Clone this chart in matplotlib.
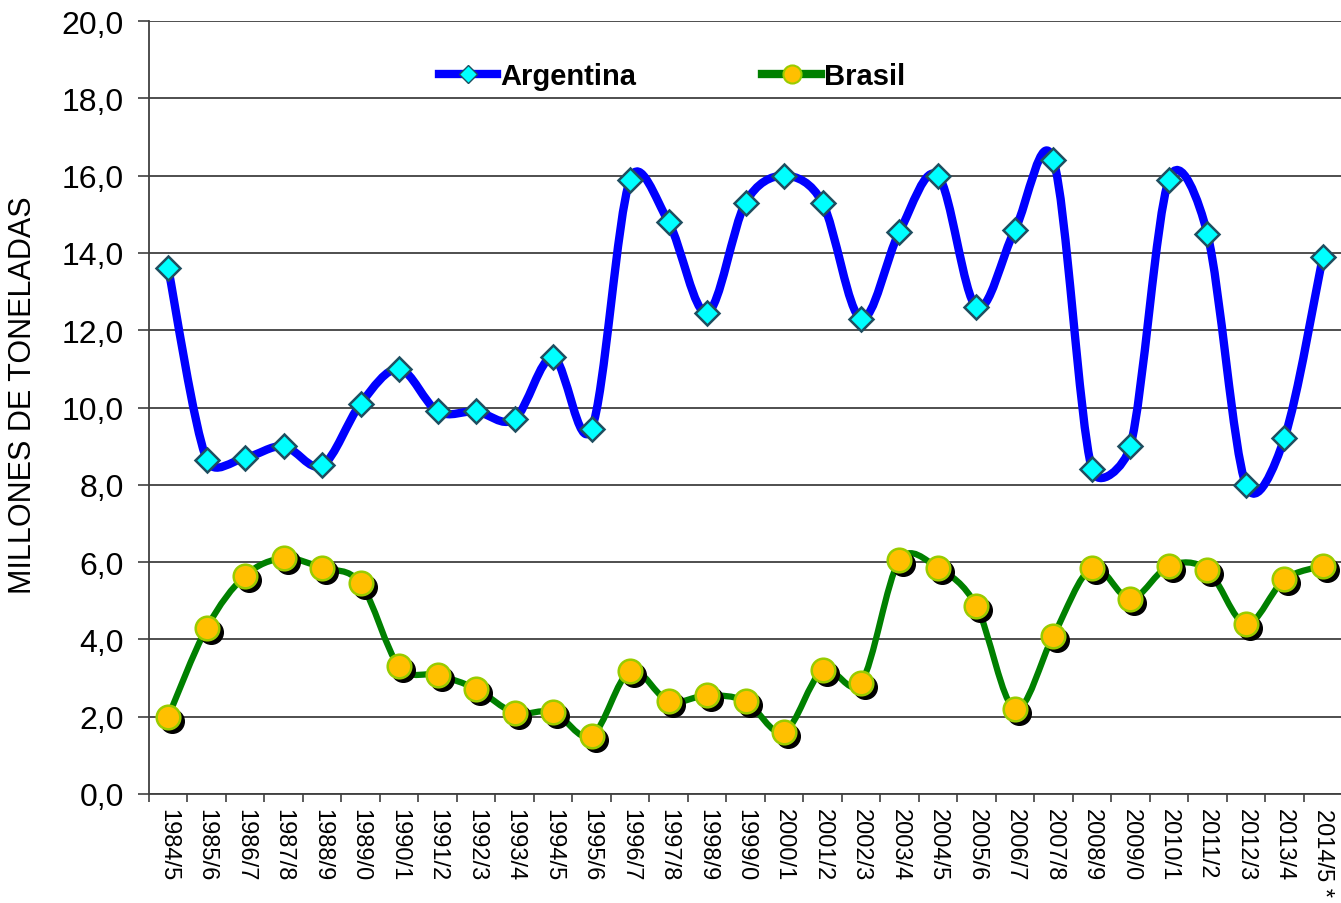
import matplotlib
matplotlib.use("Agg")
import matplotlib.pyplot as plt
import matplotlib.transforms as mtransforms
import numpy as np
from matplotlib.lines import Line2D
from matplotlib.path import Path
from matplotlib.patches import PathPatch

plt.rcParams["font.family"] = ["Liberation Sans", "DejaVu Sans"]

campaigns = ["1984/5", "1985/6", "1986/7", "1987/8", "1988/9", "1989/0", "1990/1",
             "1991/2", "1992/3", "1993/4", "1994/5", "1995/6", "1996/7", "1997/8",
             "1998/9", "1999/0", "2000/1", "2001/2", "2002/3", "2003/4", "2004/5",
             "2005/6", "2006/7", "2007/8", "2008/9", "2009/0", "2010/1", "2011/2",
             "2012/3", "2013/4", "2014/5 *"]
argentina = [13.6, 8.65, 8.7, 9.0, 8.5, 10.1, 11.0, 9.9, 9.9, 9.7, 11.3, 9.45,
             15.9, 14.8, 12.45, 15.3, 16.0, 15.3, 12.3, 14.55, 16.0, 12.6, 14.6,
             16.4, 8.4, 9.0, 15.9, 14.5, 8.0, 9.2, 13.9]
brasil = [2.0, 4.3, 5.65, 6.1, 5.85, 5.45, 3.3, 3.08, 2.72, 2.1, 2.12, 1.5,
          3.18, 2.4, 2.55, 2.4, 1.6, 3.2, 2.87, 6.05, 5.85, 4.86, 2.2, 4.1,
          5.85, 5.05, 5.9, 5.8, 4.4, 5.55, 5.9]


def _clamp(offset, seg_len):
    # keep a control arm no longer than half of its segment (limits overshoot)
    n = np.hypot(*offset)
    lim = seg_len / 2.0
    return offset * (lim / n) if n > lim else offset


def smooth_path(x, y):
    # Excel-like smoothed line drawn as cubic Bezier segments
    pts = np.column_stack([x, y]).astype(float)
    ext = np.vstack([pts[0], pts, pts[-1]])
    verts = [pts[0]]
    codes = [Path.MOVETO]
    for i in range(len(pts) - 1):
        p0, p1, p2, p3 = ext[i], ext[i + 1], ext[i + 2], ext[i + 3]
        seg = np.hypot(*(p2 - p1))
        c1 = p1 + _clamp((p2 - p0) / 6.0, seg)
        c2 = p2 - _clamp((p3 - p1) / 6.0, seg)
        verts += [c1, c2, p2]
        codes += [Path.CURVE4] * 3
    return Path(verts, codes)


fig = plt.figure(figsize=(13.41, 9.04), dpi=100, facecolor="white")
ax = fig.add_axes([0.1111, 0.1206, 0.8897, 0.855])

x = np.arange(len(campaigns))

ax.add_patch(PathPatch(smooth_path(x, argentina), fill=False, edgecolor="#0000ff",
                       linewidth=6, capstyle="round", joinstyle="round", zorder=3))
ax.plot(x, argentina, linestyle="none", marker="D", markersize=12.5,
        markerfacecolor="#00ffff", markeredgecolor="#1f4e60", markeredgewidth=1.8, zorder=4)

ax.add_patch(PathPatch(smooth_path(x, brasil), fill=False, edgecolor="#008000",
                       linewidth=4.5, capstyle="round", joinstyle="round", zorder=3))
shadow = ax.transData + mtransforms.ScaledTranslation(4 / 100, -4 / 100, fig.dpi_scale_trans)
ax.plot(x, brasil, linestyle="none", marker="o", markersize=17, markerfacecolor="black",
        markeredgecolor="black", transform=shadow, zorder=4)
ax.plot(x, brasil, linestyle="none", marker="o", markersize=17,
        markerfacecolor="#ffc000", markeredgecolor="#99cc00", markeredgewidth=1.8, zorder=5)

ax.set_xlim(-0.5, len(campaigns) - 0.5)
ax.set_ylim(0, 20)
ax.set_yticks(np.arange(0, 21, 2))
ax.set_yticklabels([f"{v:.1f}".replace(".", ",") for v in np.arange(0, 21, 2)], fontsize=23)
ax.yaxis.grid(True, color="#404040", linewidth=1.3)
ax.set_axisbelow(True)

ax.set_xticks(np.arange(-0.5, len(campaigns), 1))
ax.set_xticklabels([])
ax.set_xticks(x, minor=True)
ax.set_xticklabels(campaigns, minor=True, rotation=270, fontsize=17, va="top", ha="center")
ax.tick_params(axis="x", which="major", length=6, width=1.2, color="#404040", direction="out")
ax.tick_params(axis="x", which="minor", length=0, pad=10)
ax.tick_params(axis="y", length=8, width=1.2, color="#404040", pad=10)

for side in ["top", "right"]:
    ax.spines[side].set_visible(False)
for side in ["left", "bottom"]:
    ax.spines[side].set_color("#404040")
    ax.spines[side].set_linewidth(1.3)

ax.set_ylabel("MILLONES DE TONELADAS", fontsize=22)
ax.yaxis.set_label_coords(-0.093, 0.517)

handles = [
    Line2D([], [], color="#0000ff", linewidth=6, marker="D", markersize=9,
           markerfacecolor="#00ffff", markeredgecolor="#1f4e60", markeredgewidth=1),
    Line2D([], [], color="#008000", linewidth=6, marker="o", markersize=13,
           markerfacecolor="#ffc000", markeredgecolor="#99cc00", markeredgewidth=1.5),
]
ax.legend(handles, ["Argentina", "Brasil"], loc="center left", bbox_to_anchor=(0.221, 0.929),
          ncol=2, frameon=False, handlelength=2.0, handletextpad=0.1, columnspacing=4.33,
          prop={"weight": "bold", "size": 21})

fig.savefig("out.png", dpi=100, facecolor="white")
